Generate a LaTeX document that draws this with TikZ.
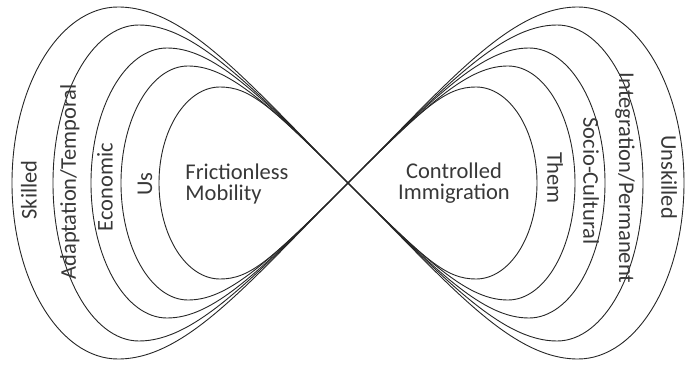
\documentclass[tikz,border=0pt]{standalone}
\usepackage{fontspec}
\setmainfont{Carlito}
\tikzset{
  lobe/.style={draw=black!85,line width=0.9pt},
  tag/.style={text=black!78,inner sep=0pt,font=\fontsize{22.5}{21}\selectfont},
}
\begin{document}
\begin{tikzpicture}[x=1pt,y=1pt]
  \useasboundingbox (-348,-181) rectangle (337,183);
  \coordinate (x) at (0,0);
  % width, height, top point, straight run, shoulder
  \foreach \w/\h/\t/\a/\b in {336/176/230/141/68,295/158/209/134/56,257/135/181/127/46,227/117/160/120/38,189/96/128/110/30}{
    \pgfmathsetmacro\r{\w-\t}
    \draw[lobe] (x) .. controls +(135:\a) and +(0:\b) .. (-\t,\h)
      arc[start angle=90,end angle=270,x radius=\r,y radius=\h]
      .. controls +(0:\b) and +(-135:\a) .. (x);
    \draw[lobe] (x) .. controls +(45:\a) and +(180:\b) .. (\t,\h)
      arc[start angle=90,end angle=-90,x radius=\r,y radius=\h]
      .. controls +(180:\b) and +(-45:\a) .. (x);
  }
  \node[tag,rotate=90] (skilled) at (-319,-7) {Skilled};
  \node[tag,rotate=90] (adapt) at (-278,1) {Adaptation/Temporal};
  \node[tag,rotate=90] (econ) at (-243,-4) {Economic};
  \node[tag,rotate=90] (us) at (-203,-1) {Us};
  \node[tag,align=left] (free) at (-111,-1) {Frictionless\\Mobility};
  \node[tag,align=center] (ctrl) at (106,0) {Controlled\\Immigration};
  \node[tag,rotate=-90] (them) at (207,5) {Them};
  \node[tag,rotate=-90] (socio) at (243,2) {Socio-Cultural};
  \node[tag,rotate=-90] (integ) at (277,5) {Integration/Permanent};
  \node[tag,rotate=-90] (unskilled) at (321,6) {Unskilled};
\end{tikzpicture}
\end{document}
